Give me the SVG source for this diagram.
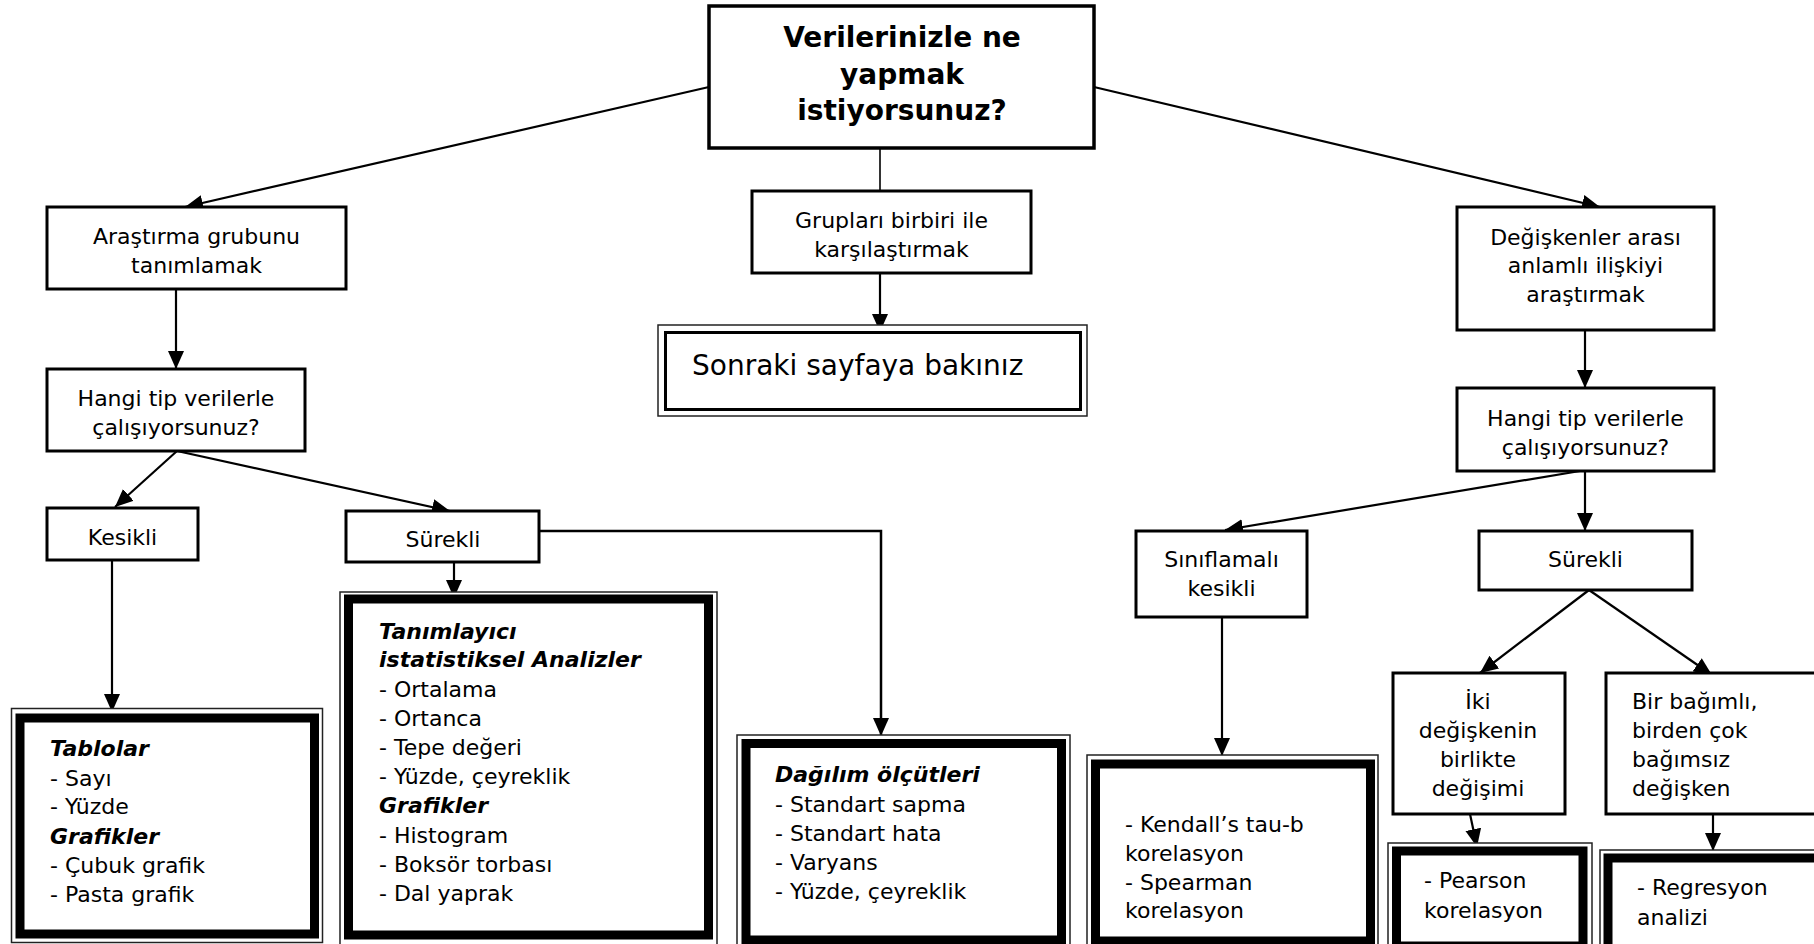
<svg xmlns="http://www.w3.org/2000/svg" width="1814" height="944" viewBox="0 0 1814 944">
<style>
.n{fill:#fff;stroke:#000;stroke-width:3}
.o{fill:#fff;stroke:#222;stroke-width:1.5}
.k{fill:none;stroke:#000;stroke-width:9}
.t{font-family:"DejaVu Sans",Verdana,sans-serif;font-size:22px;fill:#000}
.c{text-anchor:middle}
.h{font-weight:bold;font-style:italic}
.title{font-size:28px;font-weight:bold}
.big{font-size:28px}
.e{stroke:#000;stroke-width:2.2;fill:none}
</style>
<defs>
<marker id="a" markerUnits="userSpaceOnUse" markerWidth="18" markerHeight="18" refX="18" refY="8" orient="auto" viewBox="0 0 18 16">
<path d="M0,0 L18,8 L0,16 z" fill="#000"/>
</marker>
</defs>
<rect width="1814" height="944" fill="#fff"/>

<g id="connectors">
<line class="e" x1="709" y1="87" x2="185" y2="207" marker-end="url(#a)"/>
<line class="e" x1="880" y1="148" x2="880" y2="191" style="stroke-width:1.6"/>
<line class="e" x1="880" y1="273" x2="880" y2="332" marker-end="url(#a)"/>
<line class="e" x1="1094" y1="87" x2="1600" y2="207" marker-end="url(#a)"/>
<line class="e" x1="176" y1="289" x2="176" y2="369" marker-end="url(#a)"/>
<line class="e" x1="177" y1="451" x2="115" y2="507" marker-end="url(#a)"/>
<line class="e" x1="177" y1="451" x2="450" y2="511" marker-end="url(#a)"/>
<line class="e" x1="112" y1="560" x2="112" y2="712" marker-end="url(#a)"/>
<line class="e" x1="454" y1="562" x2="454" y2="598" marker-end="url(#a)"/>
<polyline class="e" points="539,531 881,531 881,736" style="stroke-width:2.5" marker-end="url(#a)"/>
<line class="e" x1="1585" y1="330" x2="1585" y2="388" marker-end="url(#a)"/>
<line class="e" x1="1580" y1="471" x2="1225" y2="530" marker-end="url(#a)"/>
<line class="e" x1="1585" y1="471" x2="1585" y2="531" marker-end="url(#a)"/>
<line class="e" x1="1222" y1="617" x2="1222" y2="756" marker-end="url(#a)"/>
<line class="e" x1="1589" y1="590" x2="1480" y2="673" marker-end="url(#a)"/>
<line class="e" x1="1589" y1="590" x2="1712" y2="675" marker-end="url(#a)"/>
<line class="e" x1="1470" y1="814" x2="1477" y2="847" marker-end="url(#a)"/>
<line class="e" x1="1713" y1="810" x2="1713" y2="851" marker-end="url(#a)"/>
</g>

<g id="top">
<rect class="n" x="709" y="6" width="385" height="142" style="stroke-width:3.5"/>
<text class="t c title"><tspan x="902" y="47">Verilerinizle ne</tspan><tspan x="902" y="84">yapmak</tspan><tspan x="902" y="120">istiyorsunuz?</tspan></text>
</g>

<g id="arastirma">
<rect class="n" x="47" y="207" width="299" height="82"/>
<text class="t c"><tspan x="196.5" y="244">Araştırma grubunu</tspan><tspan x="196.5" y="273">tanımlamak</tspan></text>
</g>

<g id="gruplar">
<rect class="n" x="752" y="191" width="279" height="82"/>
<text class="t c"><tspan x="891.5" y="228">Grupları birbiri ile</tspan><tspan x="891.5" y="257">karşılaştırmak</tspan></text>
</g>

<g id="sonraki">
<rect class="o" x="658" y="325" width="429" height="91"/>
<rect x="665.5" y="332.5" width="415" height="77" fill="none" stroke="#000" stroke-width="3"/>
<text class="t big" x="692" y="375">Sonraki sayfaya bakınız</text>
</g>

<g id="degiskenler">
<rect class="n" x="1457" y="207" width="257" height="123"/>
<text class="t c"><tspan x="1585.5" y="245">Değişkenler arası</tspan><tspan x="1585.5" y="273">anlamlı ilişkiyi</tspan><tspan x="1585.5" y="302">araştırmak</tspan></text>
</g>

<g id="hangi-sol">
<rect class="n" x="47" y="369" width="258" height="82"/>
<text class="t c"><tspan x="176" y="406">Hangi tip verilerle</tspan><tspan x="176" y="435">çalışıyorsunuz?</tspan></text>
</g>

<g id="hangi-sag">
<rect class="n" x="1457" y="388" width="257" height="83"/>
<text class="t c"><tspan x="1585.5" y="426">Hangi tip verilerle</tspan><tspan x="1585.5" y="455">çalışıyorsunuz?</tspan></text>
</g>

<g id="kesikli">
<rect class="n" x="47" y="508" width="151" height="52"/>
<text class="t c" x="122.5" y="545">Kesikli</text>
</g>

<g id="surekli-sol">
<rect class="n" x="346" y="511" width="193" height="51"/>
<text class="t c" x="443" y="547">Sürekli</text>
</g>

<g id="siniflamali">
<rect class="n" x="1136" y="531" width="171" height="86"/>
<text class="t c"><tspan x="1221.5" y="567">Sınıflamalı</tspan><tspan x="1221.5" y="596">kesikli</tspan></text>
</g>

<g id="surekli-sag">
<rect class="n" x="1479" y="531" width="213" height="59"/>
<text class="t c" x="1585.5" y="567">Sürekli</text>
</g>

<g id="iki">
<rect class="n" x="1393" y="673" width="172" height="141"/>
<text class="t c"><tspan x="1478" y="709">İki</tspan><tspan x="1478" y="738">değişkenin</tspan><tspan x="1478" y="767">birlikte</tspan><tspan x="1478" y="796">değişimi</tspan></text>
</g>

<g id="bir">
<rect class="n" x="1606" y="673" width="230" height="141"/>
<text class="t"><tspan x="1632" y="709">Bir bağımlı,</tspan><tspan x="1632" y="738">birden çok</tspan><tspan x="1632" y="767">bağımsız</tspan><tspan x="1632" y="796">değişken</tspan></text>
</g>

<g id="tablolar">
<rect class="o" x="11.5" y="708.5" width="311" height="234"/>
<rect class="k" x="20" y="718" width="294.5" height="216"/>
<text class="t"><tspan class="h" x="50" y="756">Tablolar</tspan><tspan x="50" y="785.5">- Sayı</tspan><tspan x="50" y="814">- Yüzde</tspan><tspan class="h" x="50" y="843.5">Grafikler</tspan><tspan x="50" y="873">- Çubuk grafik</tspan><tspan x="50" y="902">- Pasta grafik</tspan></text>
</g>

<g id="tanimlayici">
<rect class="o" x="340" y="592" width="377" height="356"/>
<rect class="k" x="348.5" y="599" width="360" height="336"/>
<text class="t"><tspan class="h" x="379" y="639">Tanımlayıcı</tspan><tspan class="h" x="379" y="667">istatistiksel Analizler</tspan><tspan x="379" y="697">- Ortalama</tspan><tspan x="379" y="726">- Ortanca</tspan><tspan x="379" y="755">- Tepe değeri</tspan><tspan x="379" y="784">- Yüzde, çeyreklik</tspan><tspan class="h" x="379" y="813">Grafikler</tspan><tspan x="379" y="843">- Histogram</tspan><tspan x="379" y="872">- Boksör torbası</tspan><tspan x="379" y="901">- Dal yaprak</tspan></text>
</g>

<g id="dagilim">
<rect class="o" x="737" y="735" width="333" height="215"/>
<rect class="k" x="746" y="743.5" width="315.5" height="196.5"/>
<text class="t"><tspan class="h" x="775" y="782">Dağılım ölçütleri</tspan><tspan x="775" y="812">- Standart sapma</tspan><tspan x="775" y="841">- Standart hata</tspan><tspan x="775" y="870">- Varyans</tspan><tspan x="775" y="899">- Yüzde, çeyreklik</tspan></text>
</g>

<g id="kendall">
<rect class="o" x="1087" y="755" width="291" height="195"/>
<rect class="k" x="1095.5" y="764" width="275" height="177"/>
<text class="t"><tspan x="1125" y="832">- Kendall’s tau-b</tspan><tspan x="1125" y="861">korelasyon</tspan><tspan x="1125" y="890">- Spearman</tspan><tspan x="1125" y="918">korelasyon</tspan></text>
</g>

<g id="pearson">
<rect class="o" x="1388" y="843" width="204" height="110"/>
<rect class="k" x="1396.5" y="851" width="186.5" height="95"/>
<text class="t"><tspan x="1424" y="888">- Pearson</tspan><tspan x="1424" y="918">korelasyon</tspan></text>
</g>

<g id="regresyon">
<rect class="o" x="1600" y="850" width="240" height="110"/>
<rect class="k" x="1608" y="858" width="230" height="95"/>
<text class="t"><tspan x="1637" y="895">- Regresyon</tspan><tspan x="1637" y="925">analizi</tspan></text>
</g>
</svg>
